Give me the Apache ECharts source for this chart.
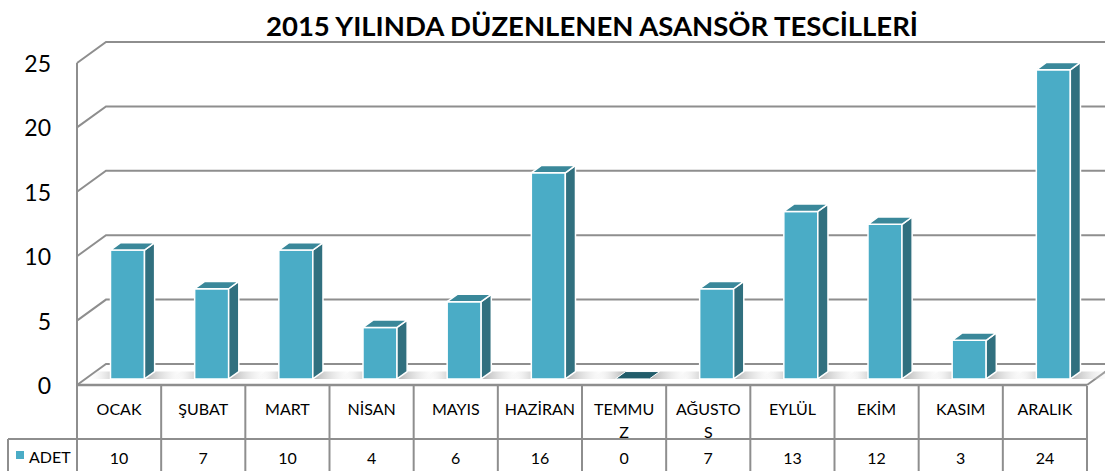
<!DOCTYPE html>
<html>
<head>
<meta charset="utf-8">
<script src="https://cdn.jsdelivr.net/npm/echarts@6/dist/echarts.min.js"></script>
<style>
  html, body { margin: 0; padding: 0; background: #ffffff; }
  #chart { width: 1105px; height: 471px; }
</style>
</head>
<body>
<div id="chart"></div>
<script>
// Monthly elevator registrations, 2015
const chartTitle = '2015 YILINDA DÜZENLENEN ASANSÖR TESCİLLERİ';
const seriesName = 'ADET';
const months = ['OCAK', 'ŞUBAT', 'MART', 'NİSAN', 'MAYIS', 'HAZİRAN', 'TEMMUZ', 'AĞUSTOS', 'EYLÜL', 'EKİM', 'KASIM', 'ARALIK'];
const monthTickLabels = ['OCAK', 'ŞUBAT', 'MART', 'NİSAN', 'MAYIS', 'HAZİRAN', 'TEMMU\nZ', 'AĞUSTO\nS', 'EYLÜL', 'EKİM', 'KASIM', 'ARALIK'];
const adet = [10, 7, 10, 4, 6, 16, 0, 7, 13, 12, 3, 24];
const yTicks = [0, 5, 10, 15, 20, 25];

const FONT = 'Lato, "Open Sans", sans-serif';
const LINE = '#8e8e8e';

// Oblique projection of the plot box: how far the back wall sits from the front plane
const DEPTH_X = 29;
const DEPTH_Y = -21;
// Bars occupy this slice of the depth, and have this front width
const BAR_F0 = 0.29;
const BAR_F1 = 0.64;
const BAR_W = 34;

// Table rows (below the plot)
const TABLE_TOP = 386;
const TABLE_ROW2 = 439;
const TABLE_BOTTOM = 472;
const TABLE_LEFT = 8;

const FRONT = '#4aacc6';
const SIDE = '#31707f';
const TOP = '#3a889a';
const FLAT = '#215c6a';

const chart = echarts.init(document.getElementById('chart'), null, { renderer: 'svg' });

// Back wall + left side wall grid lines, one per tick value
function renderWalls(params, api) {
  const cs = params.coordSys;
  const v = api.value(0);
  const p = api.coord([0, v]);
  const y = p[1];
  const x0 = cs.x;
  return {
    type: 'group',
    children: [
      { type: 'polyline', shape: { points: [[x0, y], [x0 + DEPTH_X, y + DEPTH_Y], [cs.x + cs.width + DEPTH_X + 40, y + DEPTH_Y]] },
        style: { stroke: LINE, lineWidth: 2, fill: null } }
    ]
  };
}

// Floor edges, left axis line and the table frame with its legend cell
function renderFrame(params, api) {
  const cs = params.coordSys;
  const x0 = cs.x, x1 = cs.x + cs.width;
  const yFloor = cs.y + cs.height;
  return {
    type: 'group',
    children: [
      { type: 'line', shape: { x1: x0, y1: cs.y, x2: x0, y2: TABLE_BOTTOM }, style: { stroke: LINE, lineWidth: 2 } },
      { type: 'line', shape: { x1: x0, y1: yFloor, x2: x1, y2: yFloor }, style: { stroke: LINE, lineWidth: 2.5 } },
      { type: 'line', shape: { x1: x1, y1: yFloor, x2: x1 + DEPTH_X, y2: yFloor + DEPTH_Y }, style: { stroke: LINE, lineWidth: 2 } },
      { type: 'line', shape: { x1: TABLE_LEFT, y1: TABLE_ROW2, x2: x1, y2: TABLE_ROW2 }, style: { stroke: LINE, lineWidth: 2 } },
      { type: 'line', shape: { x1: TABLE_LEFT, y1: TABLE_ROW2, x2: TABLE_LEFT, y2: TABLE_BOTTOM }, style: { stroke: LINE, lineWidth: 2 } },
      { type: 'rect', shape: { x: 16, y: 451, width: 8, height: 8 }, style: { fill: FRONT } },
      { type: 'text', x: 29, y: 456, style: { text: seriesName, font: '16px ' + FONT, fill: '#000', textAlign: 'left', textVerticalAlign: 'middle' } }
    ]
  };
}

function shadow(xa, xb, yb, dark, toRight) {
  const bx = DEPTH_X * (BAR_F1 - BAR_F0), by = DEPTH_Y * (BAR_F1 - BAR_F0);
  return {
    type: 'polygon',
    shape: { points: [[xa, yb], [xb, yb], [xb + bx, yb + by], [xa + bx, yb + by]] },
    style: {
      fill: new echarts.graphic.LinearGradient(0, 0, 1, 0, toRight
        ? [{ offset: 0, color: dark }, { offset: 1, color: 'rgba(255,255,255,0)' }]
        : [{ offset: 0, color: 'rgba(255,255,255,0)' }, { offset: 1, color: dark }])
    }
  };
}

// 3-D columns, their floor shading, and the value row of the table
function renderBars(params, api) {
  const i = api.value(0), v = api.value(1);
  const base = api.coord([i, 0]);
  const top = api.coord([i, v]);
  const band = api.size([1, 0])[0];
  const ox = DEPTH_X * BAR_F0, oy = DEPTH_Y * BAR_F0;
  const bx = DEPTH_X * (BAR_F1 - BAR_F0), by = DEPTH_Y * (BAR_F1 - BAR_F0);
  const xl = base[0] + ox - BAR_W / 2, xr = xl + BAR_W;
  const yb = base[1] + oy, yt = top[1] + oy;
  const children = [];

  children.push(shadow(xl - 24, xl, yb, 'rgba(150,150,150,0.75)', false));
  children.push(shadow(xr, xr + 34, yb, 'rgba(150,150,150,0.75)', true));

  if (v > 0) {
    children.push({ type: 'rect', shape: { x: xl, y: yt, width: BAR_W, height: yb - yt },
      style: { fill: FRONT, stroke: '#ffffff', lineWidth: 1.5 } });
    children.push({ type: 'polygon', shape: { points: [[xr, yt], [xr + bx, yt + by], [xr + bx, yb + by], [xr, yb]] },
      style: { fill: SIDE, stroke: '#ffffff', lineWidth: 1.5, lineJoin: 'round' } });
    children.push({ type: 'polygon', shape: { points: [[xl, yt], [xl + bx, yt + by], [xr + bx, yt + by], [xr, yt]] },
      style: { fill: TOP, stroke: '#ffffff', lineWidth: 1.5, lineJoin: 'round' } });
  } else {
    children.push({ type: 'polygon', shape: { points: [[xl, yb], [xl + bx, yb + by], [xr + bx, yb + by], [xr, yb]] },
      style: { fill: FLAT, stroke: '#ffffff', lineWidth: 1 } });
  }

  const xDiv = base[0] + band / 2;
  children.push({ type: 'line', shape: { x1: xDiv, y1: TABLE_TOP, x2: xDiv, y2: TABLE_BOTTOM },
    style: { stroke: LINE, lineWidth: 2 } });
  children.push({ type: 'text', x: base[0], y: 457,
    style: { text: String(v), font: '16px ' + FONT, fill: '#000', textAlign: 'center', textVerticalAlign: 'middle' } });

  return { type: 'group', children };
}

chart.setOption({
  animation: false,
  backgroundColor: '#ffffff',
  title: {
    text: chartTitle,
    left: 587,
    top: 6,
    textAlign: 'center',
    textStyle: { fontFamily: FONT, fontWeight: 'bold', fontSize: 27.5, color: '#000' }
  },
  grid: { left: 77, right: 18, top: 63, bottom: 86, containLabel: false },
  xAxis: {
    type: 'category',
    data: months,
    boundaryGap: true,
    axisLine: { show: false },
    axisTick: { show: false },
    axisLabel: {
      interval: 0,
      margin: 12,
      verticalAlign: 'top',
      lineHeight: 23,
      fontFamily: FONT,
      fontSize: 16,
      color: '#000',
      formatter: (val, idx) => monthTickLabels[idx]
    },
    splitLine: { show: false }
  },
  yAxis: {
    type: 'value',
    min: 0,
    max: 25,
    interval: 5,
    axisLine: { show: false },
    axisTick: { show: false },
    splitLine: { show: false },
    axisLabel: { margin: 26, fontFamily: FONT, fontSize: 23, color: '#000', padding: [6, 0, 0, 0] }
  },
  series: [
    { type: 'custom', name: 'walls', z: 1, silent: true, renderItem: renderWalls, data: yTicks.map(v => [v]) },
    { type: 'custom', name: 'frame', z: 2, silent: true, renderItem: renderFrame, data: [[0]] },
    { type: 'custom', name: seriesName, z: 3, renderItem: renderBars,
      encode: { x: 0, y: 1 },
      data: adet.map((v, i) => [i, v]) }
  ]
});
</script>
</body>
</html>
